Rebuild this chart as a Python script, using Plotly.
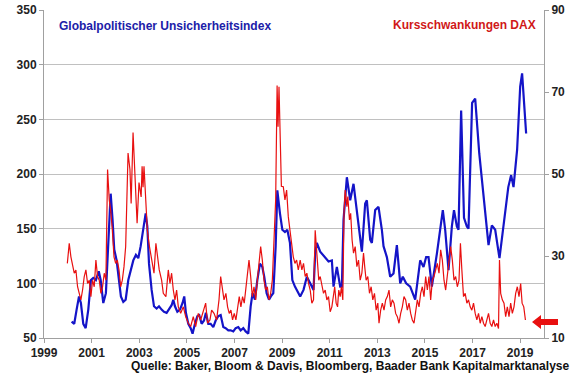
import plotly.graph_objects as go

# Globalpolitischer Unsicherheitsindex (left axis), time in decimal years
gepu_t = [2000.16, 2000.27, 2000.37, 2000.47, 2000.55, 2000.65, 2000.75, 2000.86, 2000.97, 2001.07,
          2001.18, 2001.30, 2001.38, 2001.49, 2001.60, 2001.70, 2001.80, 2001.88, 2001.95, 2002.05,
          2002.14, 2002.23, 2002.33, 2002.43, 2002.54, 2002.64, 2002.75, 2002.86, 2002.96, 2003.06,
          2003.17, 2003.27, 2003.34, 2003.41, 2003.52, 2003.62, 2003.73, 2003.83, 2003.94, 2004.04,
          2004.15, 2004.26, 2004.36, 2004.43, 2004.50, 2004.60, 2004.71, 2004.82, 2004.89, 2004.96,
          2005.06, 2005.16, 2005.24, 2005.34, 2005.44, 2005.52, 2005.62, 2005.72, 2005.80, 2005.90,
          2006.00, 2006.11, 2006.21, 2006.32, 2006.42, 2006.53, 2006.63, 2006.74, 2006.84, 2006.95,
          2007.05, 2007.16, 2007.26, 2007.37, 2007.47, 2007.58, 2007.68, 2007.76, 2007.86, 2007.96,
          2008.07, 2008.17, 2008.25, 2008.35, 2008.45, 2008.53, 2008.63, 2008.73, 2008.80, 2008.91,
          2009.01, 2009.12, 2009.22, 2009.33, 2009.43, 2009.54, 2009.68, 2009.76, 2009.90, 2010.04,
          2010.18, 2010.32, 2010.39, 2010.46, 2010.60, 2010.81, 2010.95, 2011.09, 2011.16, 2011.30,
          2011.44, 2011.51, 2011.58, 2011.72, 2011.86, 2012.00, 2012.14, 2012.35, 2012.49, 2012.56,
          2012.70, 2012.77, 2012.91, 2013.05, 2013.19, 2013.26, 2013.40, 2013.54, 2013.68, 2013.82,
          2013.96, 2014.07, 2014.21, 2014.38, 2014.59, 2014.80, 2014.94, 2015.05, 2015.15, 2015.29,
          2015.50, 2015.64, 2015.75, 2015.85, 2015.99, 2016.13, 2016.22, 2016.34, 2016.41, 2016.52,
          2016.64, 2016.76, 2016.83, 2016.98, 2017.11, 2017.28, 2017.43, 2017.53, 2017.67, 2017.81,
          2017.95, 2018.13, 2018.32, 2018.50, 2018.62, 2018.72, 2018.87, 2019.00, 2019.08, 2019.25]
gepu_v = [65, 63, 76, 88, 82, 63, 59, 76, 103, 105,
          103, 111, 103, 82, 91, 134, 182, 158, 131, 121,
          106, 88, 83, 85, 103, 112, 121, 126, 123, 134,
          149, 164, 152, 118, 94, 79, 77, 79, 76, 74,
          73, 77, 80, 85, 79, 74, 76, 82, 88, 73,
          63, 59, 54, 63, 70, 71, 63, 66, 73, 63,
          63, 60, 66, 70, 71, 60, 59, 57, 57, 56,
          59, 60, 57, 59, 56, 54, 79, 91, 85, 103,
          118, 115, 106, 91, 85, 88, 91, 134, 185, 164,
          149, 147, 149, 137, 103, 97, 92, 88, 94, 106,
          100, 94, 127, 137, 129, 124, 120, 121, 97, 115,
          97, 97, 158, 197, 176, 191, 164, 129, 173, 176,
          140, 137, 167, 170, 149, 134, 124, 106, 109, 135,
          100, 106, 100, 97, 85, 121, 115, 124, 124, 97,
          127, 152, 167, 149, 112, 152, 167, 152, 149, 258,
          160, 152, 150, 265, 269, 219, 188, 164, 135, 153,
          149, 123, 158, 188, 199, 188, 222, 280, 292, 237]

# Kursschwankungen DAX (right axis), time in decimal years
vdax_t = [1999.98, 2000.06, 2000.13, 2000.20, 2000.27, 2000.34, 2000.41, 2000.48, 2000.55, 2000.62,
          2000.69, 2000.76, 2000.83, 2000.90, 2000.97, 2001.04, 2001.11, 2001.18, 2001.25, 2001.32,
          2001.39, 2001.46, 2001.53, 2001.60, 2001.67, 2001.74, 2001.80, 2001.87, 2001.94, 2002.01,
          2002.08, 2002.15, 2002.22, 2002.29, 2002.36, 2002.43, 2002.47, 2002.53, 2002.61, 2002.66,
          2002.74, 2002.82, 2002.91, 2002.99, 2003.08, 2003.12, 2003.16, 2003.20, 2003.29, 2003.34,
          2003.43, 2003.52, 2003.62, 2003.70, 2003.78, 2003.84, 2003.94, 2004.01, 2004.12, 2004.22,
          2004.29, 2004.36, 2004.43, 2004.50, 2004.57, 2004.64, 2004.74, 2004.85, 2004.95, 2005.06,
          2005.16, 2005.27, 2005.37, 2005.48, 2005.58, 2005.69, 2005.79, 2005.87, 2005.97, 2006.04,
          2006.14, 2006.25, 2006.35, 2006.42, 2006.49, 2006.56, 2006.64, 2006.71, 2006.78, 2006.85,
          2006.92, 2006.99, 2007.06, 2007.13, 2007.20, 2007.27, 2007.34, 2007.41, 2007.48, 2007.55,
          2007.61, 2007.68, 2007.75, 2007.82, 2007.89, 2007.96, 2008.03, 2008.10, 2008.17, 2008.24,
          2008.31, 2008.38, 2008.45, 2008.52, 2008.59, 2008.66, 2008.73, 2008.79, 2008.83, 2008.87,
          2008.92, 2008.97, 2009.05, 2009.12, 2009.19, 2009.26, 2009.33, 2009.40, 2009.47, 2009.54,
          2009.61, 2009.68, 2009.76, 2009.83, 2009.90, 2009.97, 2010.04, 2010.11, 2010.18, 2010.25,
          2010.32, 2010.39, 2010.43, 2010.48, 2010.54, 2010.60, 2010.67, 2010.74, 2010.81, 2010.88,
          2010.95, 2011.02, 2011.09, 2011.16, 2011.21, 2011.27, 2011.33, 2011.38, 2011.44, 2011.49,
          2011.55, 2011.60, 2011.65, 2011.72, 2011.76, 2011.83, 2011.88, 2011.94, 2012.00, 2012.07,
          2012.14, 2012.21, 2012.28, 2012.35, 2012.42, 2012.47, 2012.53, 2012.60, 2012.67, 2012.74,
          2012.81, 2012.88, 2012.95, 2013.02, 2013.07, 2013.14, 2013.21, 2013.28, 2013.35, 2013.42,
          2013.49, 2013.56, 2013.63, 2013.70, 2013.77, 2013.84, 2013.91, 2013.98, 2014.05, 2014.12,
          2014.19, 2014.26, 2014.33, 2014.40, 2014.47, 2014.54, 2014.61, 2014.68, 2014.75, 2014.82,
          2014.89, 2014.96, 2015.03, 2015.10, 2015.17, 2015.24, 2015.31, 2015.38, 2015.45, 2015.52,
          2015.59, 2015.66, 2015.73, 2015.80, 2015.87, 2015.94, 2016.01, 2016.08, 2016.15, 2016.22,
          2016.29, 2016.36, 2016.43, 2016.49, 2016.55, 2016.62, 2016.69, 2016.76, 2016.83, 2016.90,
          2016.97, 2017.04, 2017.11, 2017.18, 2017.25, 2017.32, 2017.39, 2017.46, 2017.53, 2017.60,
          2017.67, 2017.74, 2017.81, 2017.88, 2017.95, 2018.02, 2018.09, 2018.13, 2018.18, 2018.25,
          2018.32, 2018.39, 2018.46, 2018.53, 2018.60, 2018.67, 2018.74, 2018.81, 2018.88, 2018.95,
          2019.02, 2019.08, 2019.15, 2019.22]
vdax_v = [28.2, 33.1, 29.8, 27.4, 25.8, 26.6, 22.5, 20.9, 19.3, 21.7,
          25.0, 26.6, 23.3, 24.1, 20.1, 24.1, 22.5, 29.0, 25.0, 24.1,
          20.9, 22.5, 25.8, 24.1, 51.1, 43.7, 41.2, 36.3, 29.8, 28.2,
          29.0, 26.6, 22.5, 24.1, 27.4, 32.3, 40.4, 55.1, 51.1, 42.8,
          60.1, 51.1, 38.0, 47.9, 44.4, 51.9, 46.8, 51.9, 42.8, 36.3,
          32.3, 29.0, 25.8, 33.1, 29.0, 26.6, 24.1, 20.9, 20.1, 26.6,
          23.3, 25.8, 21.7, 19.3, 21.7, 17.6, 16.0, 17.6, 15.2, 13.6,
          12.8, 15.2, 12.8, 16.0, 14.4, 16.8, 18.5, 13.6, 14.4, 16.8,
          16.0, 14.4, 19.3, 25.0, 22.5, 19.3, 20.9, 17.6, 16.0, 16.8,
          14.4, 16.0, 14.4, 16.8, 20.1, 17.6, 20.1, 18.5, 21.7, 25.8,
          29.0, 25.0, 20.1, 22.5, 19.3, 24.1, 29.0, 32.3, 29.0, 24.1,
          21.7, 22.5, 19.3, 20.9, 24.1, 32.3, 43.7, 71.6, 61.5, 71.3,
          57.5, 47.0, 46.9, 43.7, 46.1, 39.6, 36.3, 32.3, 29.8, 28.2,
          29.0, 26.6, 29.0, 26.6, 28.2, 25.0, 25.8, 23.3, 21.7, 18.5,
          19.3, 36.3, 32.3, 27.4, 24.1, 25.0, 22.5, 20.9, 21.7, 19.3,
          20.1, 16.4, 17.6, 20.1, 22.5, 18.5, 17.6, 21.7, 20.1, 22.5,
          19.3, 40.4, 46.1, 42.0, 44.5, 38.8, 40.4, 33.9, 30.7, 32.3,
          27.4, 29.0, 24.1, 25.8, 30.7, 27.4, 24.1, 25.0, 20.9, 22.5,
          19.3, 20.9, 16.8, 18.5, 13.6, 16.8, 18.5, 16.8, 19.3, 20.1,
          21.7, 17.6, 19.3, 18.5, 16.0, 15.2, 13.6, 16.0, 17.6, 20.1,
          19.3, 16.8, 18.5, 16.0, 14.4, 13.6, 16.0, 19.3, 17.6, 20.9,
          22.5, 20.1, 25.0, 21.7, 25.0, 19.3, 24.1, 25.0, 26.6, 28.2,
          25.8, 31.5, 29.0, 24.1, 21.7, 25.8, 28.2, 32.3, 29.0, 24.1,
          25.0, 22.5, 24.1, 33.1, 26.6, 20.1, 20.9, 18.5, 19.3, 17.6,
          16.8, 18.5, 16.0, 14.4, 16.0, 13.6, 15.2, 13.6, 12.8, 14.4,
          16.0, 13.6, 12.8, 14.4, 12.8, 13.6, 12.3, 29.0, 20.9, 19.3,
          18.5, 15.2, 17.6, 15.2, 18.5, 16.0, 17.6, 20.9, 22.5, 20.1,
          23.3, 18.5, 17.6, 14.4]

x_ticks = [1999, 2001, 2003, 2005, 2007, 2009, 2011, 2013, 2015, 2017, 2019]
y2_ticks = [10, 30, 50, 70, 90]

FONT = "Liberation Sans, Arial, sans-serif"
BLUE = "#1414C8"
RED = "#E81010"
TICKFONT = dict(family=FONT, size=12, color="#222222", weight="bold")

fig = go.Figure()
fig.add_trace(go.Scatter(x=gepu_t, y=gepu_v, mode="lines", name="Globalpolitischer Unsicherheitsindex",
                         line=dict(color=BLUE, width=2.2), yaxis="y"))
fig.add_trace(go.Scatter(x=vdax_t, y=vdax_v, mode="lines", name="Kursschwankungen DAX",
                         line=dict(color=RED, width=1.2), yaxis="y2"))

fig.update_layout(
    width=580, height=375,
    margin=dict(l=44, r=36, t=10, b=37, autoexpand=False),
    paper_bgcolor="white", plot_bgcolor="white",
    showlegend=False,
    font=dict(family=FONT, size=12, color="#222222"),
    xaxis=dict(range=[1999, 2020], tickvals=x_ticks, ticktext=[str(v) for v in x_ticks],
               showgrid=False, zeroline=False, showline=True, linecolor="#A0A0A0", linewidth=1,
               ticks="outside", ticklen=4, tickcolor="#A0A0A0", automargin=False,
               tickfont=TICKFONT),
    yaxis=dict(range=[50, 350], dtick=50, showgrid=True, gridcolor="#C0C0C0", gridwidth=1,
               zeroline=False, showline=True, linecolor="#A0A0A0", linewidth=1,
               ticks="outside", ticklen=4, tickcolor="#A0A0A0", automargin=False,
               tickfont=TICKFONT),
    yaxis2=dict(range=[10, 90], tickvals=y2_ticks, overlaying="y", side="right", showgrid=False,
                zeroline=False, showline=True, linecolor="#A0A0A0", linewidth=1,
                ticks="outside", ticklen=4, tickcolor="#A0A0A0", automargin=False,
                tickfont=TICKFONT),
    annotations=[
        dict(text="<b>Globalpolitischer Unsicherheitsindex</b>", xref="paper", yref="paper",
             x=0.026, y=0.951, xanchor="left", yanchor="middle", showarrow=False,
             font=dict(family=FONT, size=12, color="#2020A8")),
        dict(text="<b>Kursschwankungen DAX</b>", xref="paper", yref="paper",
             x=0.988, y=0.954, xanchor="right", yanchor="middle", showarrow=False,
             font=dict(family=FONT, size=12, color="#D01818")),
        dict(text="<b>Quelle: Baker, Bloom & Davis, Bloomberg, Baader Bank Kapitalmarktanalyse</b>",
             xref="paper", yref="paper", x=1.054, y=-0.086, xanchor="right", yanchor="middle",
             showarrow=False, font=dict(family=FONT, size=12, color="#111111")),
    ],
    shapes=[
        dict(type="path", xref="paper", yref="paper",
             path="M 0.976 0.0488 L 0.994 0.0701 L 0.994 0.0579 L 1.028 0.0579 "
                  "L 1.028 0.0396 L 0.994 0.0396 L 0.994 0.0274 Z",
             fillcolor=RED, line=dict(color=RED, width=0)),
    ],
)

fig.write_html("out.html", config={"displayModeBar": False},
               post_script="document.body.style.margin='0';document.body.style.padding='0';")
